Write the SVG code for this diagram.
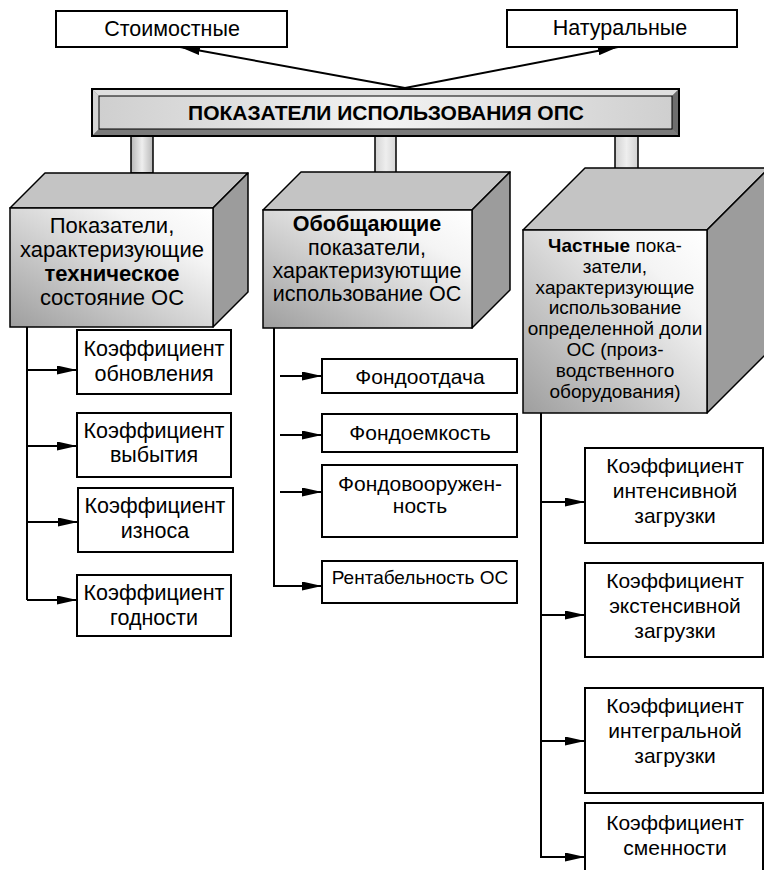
<svg xmlns="http://www.w3.org/2000/svg" width="764" height="870" viewBox="0 0 764 870">
<defs>
<style>
text{font-family:"Liberation Sans",Arial,sans-serif;fill:#000;text-anchor:middle}
.t22{font-size:22px}
.t215{font-size:21.5px}
.t21{font-size:21px}
.t19{font-size:19px}
.b{font-weight:bold}
.box{fill:#fff;stroke:#000;stroke-width:2}
.top{fill:#c4c4c4;stroke:#000;stroke-width:1.5;stroke-linejoin:round}
.side{fill:#9c9c9c;stroke:#000;stroke-width:1.5;stroke-linejoin:round}
.front{fill:url(#gFront);stroke:#000;stroke-width:1.5}
.stem{fill:url(#gStem);stroke:#000;stroke-width:1.5;stroke-linejoin:miter}
.ln{fill:none;stroke:#000;stroke-width:2}
.ar{fill:none;stroke:#000;stroke-width:2;marker-end:url(#arr)}
</style>
<linearGradient id="gFront" x1="0" y1="1" x2="1" y2="0">
<stop offset="0" stop-color="#9e9e9e"/>
<stop offset="0.75" stop-color="#f4f4f4"/>
<stop offset="1" stop-color="#ffffff"/>
</linearGradient>
<linearGradient id="gStem" x1="0" y1="0" x2="1" y2="0">
<stop offset="0" stop-color="#b8b8b8"/>
<stop offset="0.5" stop-color="#eeeeee"/>
<stop offset="1" stop-color="#b8b8b8"/>
</linearGradient>
<linearGradient id="gBar" x1="0" y1="0" x2="1" y2="0">
<stop offset="0" stop-color="#cfcfcf"/>
<stop offset="0.5" stop-color="#f2f2f2"/>
<stop offset="1" stop-color="#cfcfcf"/>
</linearGradient>
<marker id="arr" markerUnits="userSpaceOnUse" markerWidth="20" markerHeight="9" refX="20" refY="4.5" orient="auto">
<path d="M0,0 L20,4.5 L0,9 Z" fill="#000"/>
</marker>
</defs>

<g id="connectors">
<path class="ar" d="M405,88 L180,47"/>
<path class="ar" d="M405,88 L618,47"/>
<path class="ln" d="M27,327 V600"/>
<path class="ar" d="M27,370 H77"/>
<path class="ar" d="M27,446 H77"/>
<path class="ar" d="M27,522 H78"/>
<path class="ar" d="M27,600 H77"/>
<path class="ln" d="M274,328 V587"/>
<path class="ar" d="M280,376 H322"/>
<path class="ar" d="M280,435 H322"/>
<path class="ar" d="M280,492 H322"/>
<path class="ar" d="M274,586 H322"/>
<path class="ln" d="M541,413 V858"/>
<path class="ar" d="M541,502 H585"/>
<path class="ar" d="M541,615 H585"/>
<path class="ar" d="M541,741 H585"/>
<path class="ar" d="M541,857 H585"/>
</g>

<g id="stoimostnye">
<rect class="box" x="56" y="11" width="231" height="36"/>
<text class="t215" x="172" y="36">Стоимостные</text>
</g>

<g id="naturalnye">
<rect class="box" x="507" y="10" width="230" height="37"/>
<text class="t215" x="620" y="35">Натуральные</text>
</g>

<g id="stems">
<rect class="stem" x="131" y="136" width="22" height="37"/>
<path class="stem" d="M375,136 H396 V180 H409 L386,197 L363,180 H375 Z"/>
<path class="stem" d="M615,136 H638 V183 H648 L627,199 L605,183 H615 Z"/>
</g>

<g id="main">
<rect x="92" y="89" width="587" height="47" fill="#8a8a8a" stroke="#000" stroke-width="2"/>
<path d="M93,90 H678 L672,96 H99 Z" fill="#e0e0e0"/>
<path d="M93,90 L99,96 V129 L93,135 Z" fill="#d4d4d4"/>
<path d="M678,90 L672,96 V129 L678,135 Z" fill="#6e6e6e"/>
<path d="M93,135 L99,129 H672 L678,135 Z" fill="#7a7a7a"/>
<rect x="99" y="96" width="573" height="33" fill="url(#gBar)" stroke="#000" stroke-width="1"/>
<text class="t21 b" x="386" y="120">ПОКАЗАТЕЛИ ИСПОЛЬЗОВАНИЯ ОПС</text>
</g>

<g id="box-tech">
<polygon class="top" points="10,208 45,173 248,173 213,208"/>
<polygon class="side" points="213,208 248,173 248,292 213,327"/>
<rect class="front" x="10" y="208" width="203" height="119"/>
<text class="t22" x="112" y="233">Показатели,</text>
<text class="t22" x="112" y="257">характеризующие</text>
<text class="t22 b" x="112" y="281">техническое</text>
<text class="t22" x="112" y="305">состояние ОС</text>
</g>

<g id="box-general">
<polygon class="top" points="263,210 301,172 510,172 472,210"/>
<polygon class="side" points="472,210 510,172 510,290 472,328"/>
<rect class="front" x="263" y="210" width="209" height="118"/>
<text class="t215 b" x="367" y="231">Обобщающие</text>
<text class="t215" x="367" y="255">показатели,</text>
<text class="t215" x="367" y="278">характеризуютщие</text>
<text class="t215" x="367" y="301">использование ОС</text>
</g>

<g id="box-partial">
<polygon class="top" points="523,230 585,168 769,168 707,230"/>
<polygon class="side" points="707,230 769,168 769,351 707,413"/>
<rect class="front" x="523" y="230" width="184" height="183"/>
<text class="t19" x="615" y="252"><tspan class="b">Частные</tspan> пока-</text>
<text class="t19" x="615" y="273">затели,</text>
<text class="t19" x="615" y="294">характеризующие</text>
<text class="t19" x="615" y="314">использование</text>
<text class="t19" x="615" y="335">определенной доли</text>
<text class="t19" x="615" y="356">ОС (произ-</text>
<text class="t19" x="615" y="377">водственного</text>
<text class="t19" x="615" y="398">оборудования)</text>
</g>

<g id="k-obnovleniya">
<rect class="box" x="77" y="330" width="154" height="64"/>
<text class="t215" x="154" y="356">Коэффициент</text>
<text class="t215" x="154" y="381">обновления</text>
</g>
<g id="k-vybytiya">
<rect class="box" x="77" y="413" width="154" height="64"/>
<text class="t215" x="154" y="438">Коэффициент</text>
<text class="t215" x="154" y="462">выбытия</text>
</g>
<g id="k-iznosa">
<rect class="box" x="78" y="488" width="155" height="64"/>
<text class="t215" x="155" y="513">Коэффициент</text>
<text class="t215" x="155" y="538">износа</text>
</g>
<g id="k-godnosti">
<rect class="box" x="77" y="575" width="154" height="61"/>
<text class="t215" x="154" y="600">Коэффициент</text>
<text class="t215" x="154" y="625">годности</text>
</g>

<g id="fondootdacha">
<rect class="box" x="322" y="359" width="195" height="34"/>
<text class="t21" x="420" y="384">Фондоотдача</text>
</g>
<g id="fondoemkost">
<rect class="box" x="322" y="414" width="195" height="38"/>
<text class="t21" x="420" y="440">Фондоемкость</text>
</g>
<g id="fondovooruzhennost">
<rect class="box" x="322" y="465" width="195" height="72"/>
<text class="t21" x="420" y="491">Фондовооружен-</text>
<text class="t21" x="420" y="513">ность</text>
</g>
<g id="rentabelnost">
<rect class="box" x="322" y="561" width="195" height="42"/>
<text class="t19" x="420" y="584">Рентабельность ОС</text>
</g>

<g id="k-intensivnoy">
<rect class="box" x="585" y="448" width="178" height="95"/>
<text class="t21" x="675" y="473">Коэффициент</text>
<text class="t21" x="675" y="498">интенсивной</text>
<text class="t21" x="675" y="523">загрузки</text>
</g>
<g id="k-ekstensivnoy">
<rect class="box" x="585" y="563" width="178" height="94"/>
<text class="t21" x="675" y="588">Коэффициент</text>
<text class="t21" x="675" y="613">экстенсивной</text>
<text class="t21" x="675" y="638">загрузки</text>
</g>
<g id="k-integralnoy">
<rect class="box" x="585" y="688" width="178" height="105"/>
<text class="t21" x="675" y="713">Коэффициент</text>
<text class="t21" x="675" y="738">интегральной</text>
<text class="t21" x="675" y="763">загрузки</text>
</g>
<g id="k-smennosti">
<rect class="box" x="585" y="803" width="178" height="80"/>
<text class="t21" x="675" y="830">Коэффициент</text>
<text class="t21" x="675" y="855">сменности</text>
</g>
</svg>
